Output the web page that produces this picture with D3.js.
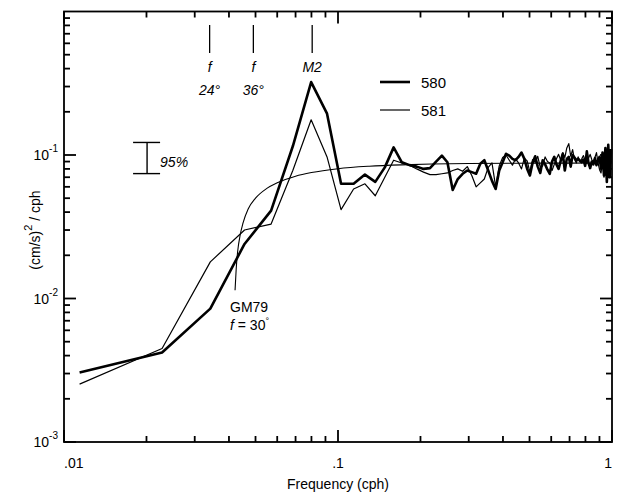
<!DOCTYPE html>
<html>
<head>
<meta charset="utf-8">
<script src="https://cdn.jsdelivr.net/npm/d3@7"></script>
<style>
  body { margin: 0; background: #fff; }
  svg text { font-family: "Liberation Sans", Arial, sans-serif; fill: #000; }
</style>
</head>
<body>
<svg id="chart" width="621" height="501"></svg>
<script>
// spectral estimates (cph), uniform spacing
const freq = [
  0.0114, 0.0228, 0.0342, 0.0456, 0.057, 0.0684, 0.0798, 0.0912, 0.1026, 0.114,
  0.1254, 0.1368, 0.1482, 0.1596, 0.171, 0.1824, 0.1938, 0.2052, 0.2166, 0.228,
  0.2394, 0.2508, 0.2622, 0.2736, 0.285, 0.2964, 0.3078, 0.3192, 0.3306, 0.342,
  0.3534, 0.3648, 0.3762, 0.3876, 0.399, 0.4104, 0.4218, 0.4332, 0.4446, 0.456,
  0.4674, 0.4788, 0.4902, 0.5016, 0.513, 0.5244, 0.5358, 0.5472, 0.5586, 0.57,
  0.5814, 0.5928, 0.6042, 0.6156, 0.627, 0.6384, 0.6498, 0.6612, 0.6726, 0.684,
  0.6954, 0.7068, 0.7182, 0.7296, 0.741, 0.7524, 0.7638, 0.7752, 0.7866, 0.798,
  0.8094, 0.8208, 0.8322, 0.8436, 0.855, 0.8664, 0.8778, 0.8892, 0.9006, 0.912,
  0.9234, 0.9348, 0.9462, 0.9576, 0.969, 0.9804, 0.9918
];

// mooring 580 (thick)
const s580 = [
  0.00305, 0.0042, 0.0085, 0.024, 0.041, 0.115, 0.322, 0.194, 0.063, 0.063,
  0.073, 0.065, 0.082, 0.113, 0.089, 0.085, 0.083, 0.080, 0.081, 0.090,
  0.099, 0.089, 0.057, 0.068, 0.074, 0.078, 0.076, 0.074, 0.087, 0.092,
  0.078, 0.066, 0.058, 0.078, 0.089, 0.102, 0.099, 0.094, 0.092, 0.097,
  0.104, 0.094, 0.080, 0.072, 0.088, 0.098, 0.083, 0.075, 0.092, 0.086,
  0.079, 0.074, 0.090, 0.097, 0.086, 0.080, 0.091, 0.102, 0.078, 0.094,
  0.097, 0.083, 0.100, 0.096, 0.092, 0.094, 0.091, 0.089, 0.093, 0.084,
  0.106, 0.088, 0.081, 0.090, 0.086, 0.095, 0.085, 0.092, 0.097, 0.080,
  0.104, 0.072, 0.112, 0.065, 0.118, 0.070, 0.110
];

// mooring 581 (thin)
const s581 = [
  0.00253, 0.00448, 0.018, 0.030, 0.033, 0.078, 0.176, 0.097, 0.0416, 0.058,
  0.063, 0.052, 0.070, 0.092, 0.088, 0.085, 0.080, 0.076, 0.073, 0.073,
  0.074, 0.075, 0.078, 0.080, 0.077, 0.083, 0.072, 0.060, 0.064, 0.068,
  0.082, 0.088, 0.060, 0.084, 0.096, 0.100, 0.092, 0.085, 0.094, 0.088,
  0.080, 0.095, 0.091, 0.076, 0.093, 0.089, 0.098, 0.082, 0.084, 0.097,
  0.090, 0.088, 0.078, 0.086, 0.094, 0.101, 0.092, 0.104, 0.096, 0.112,
  0.120, 0.098, 0.109, 0.093, 0.088, 0.097, 0.090, 0.094, 0.099, 0.092,
  0.087, 0.095, 0.101, 0.093, 0.089, 0.096, 0.104, 0.088, 0.079, 0.075,
  0.092, 0.070, 0.096, 0.080, 0.100, 0.086, 0.094
];

// GM79 reference curve, f = 30 deg
const gmFreq = [0.0421, 0.0425, 0.043, 0.044, 0.045, 0.047, 0.05, 0.055, 0.06, 0.07,
  0.08, 0.1, 0.13, 0.17, 0.22, 0.3, 0.45, 0.7, 1.0];
const gmVal = [0.0114, 0.016, 0.021, 0.028, 0.0335, 0.042, 0.050, 0.0585, 0.064, 0.0712,
  0.0755, 0.0803, 0.0835, 0.0854, 0.0865, 0.0872, 0.0876, 0.0878, 0.0879];

// frequency markers along the top
const markerFreq = [0.0340, 0.0491, 0.0805];
const markerTop = ["f", "f", "M2"];
const markerBottom = ["24°", "36°", ""];

// 95% confidence bar
const ciFreq = 0.0201;
const ciRange = [0.0742, 0.1223];

const xTickLabels = [".01", ".1", "1"];
const xTickValues = [0.01, 0.1, 1];
const yTickValues = [1e-3, 1e-2, 1e-1];
const yTickExp = ["-3", "-2", "-1"];

const svg = d3.select("#chart");
const pLeft = 64, pRight = 612, pTop = 11.5, pBottom = 442;

const x = d3.scaleLog().domain([0.01, 1]).range([pLeft, pRight]);
const y = d3.scaleLog().domain([1e-3, 1]).range([pBottom, pTop]);

// minor ticks 2..9 per decade
let xMinor = [], yMinor = [];
[0.01, 0.1].forEach(d => { for (let k = 2; k <= 9; k++) xMinor.push(d * k); });
[1e-3, 1e-2, 1e-1].forEach(d => { for (let k = 2; k <= 9; k++) yMinor.push(d * k); });

const majorLen = 12, minorLen = 6;

// inward ticks on all four sides
const tickG = svg.append("g").attr("stroke", "#000").attr("stroke-width", 1.8);
function xTicks(vals, len) {
  [[pBottom, -len], [pTop, len]].forEach(([base, dir]) => {
    tickG.append("g").selectAll("line").data(vals).join("line")
      .attr("x1", d => x(d)).attr("x2", d => x(d))
      .attr("y1", base).attr("y2", base + dir);
  });
}
function yTicks(vals, len) {
  [[pLeft, len], [pRight, -len]].forEach(([base, dir]) => {
    tickG.append("g").selectAll("line").data(vals).join("line")
      .attr("y1", d => y(d)).attr("y2", d => y(d))
      .attr("x1", base).attr("x2", base + dir);
  });
}
xTicks(xTickValues, majorLen);
xTicks(xMinor, minorLen);
yTicks(yTickValues, majorLen);
yTicks(yMinor, minorLen);

// frame
svg.append("rect")
  .attr("x", pLeft).attr("y", pTop)
  .attr("width", pRight - pLeft).attr("height", pBottom - pTop)
  .attr("fill", "none").attr("stroke", "#000").attr("stroke-width", 1.8);

// x tick labels
const xAnchors = ["start", "middle", "end"];
xTickValues.forEach((v, i) => {
  svg.append("text")
    .attr("x", x(v)).attr("y", 468)
    .attr("text-anchor", xAnchors[i])
    .attr("font-size", 14)
    .text(xTickLabels[i]);
});

svg.append("text")
  .attr("x", x(0.1)).attr("y", 489)
  .attr("text-anchor", "middle")
  .attr("font-size", 14)
  .text("Frequency (cph)");

// y tick labels 10^n
yTickValues.forEach((v, i) => {
  const t = svg.append("text")
    .attr("x", 58).attr("y", y(v) + 5)
    .attr("text-anchor", "end")
    .attr("font-size", 14);
  t.append("tspan").text("10");
  t.append("tspan").attr("dy", -8).attr("font-size", 10).text(yTickExp[i]);
});

// y axis title
const yt = svg.append("text")
  .attr("transform", "translate(40,230) rotate(-90)")
  .attr("text-anchor", "middle")
  .attr("font-size", 14);
yt.append("tspan").text("(cm/s)");
yt.append("tspan").attr("dy", -8).attr("font-size", 11).text("2");
yt.append("tspan").attr("dy", 8).text(" / cph");

// lines
const line = (xs, ys) => d3.line()
  .x((d, i) => x(xs[i]))
  .y(d => y(d))(ys);

svg.append("path")
  .attr("d", d3.line().curve(d3.curveMonotoneX)
    .x((d, i) => x(gmFreq[i])).y(d => y(d))(gmVal))
  .attr("fill", "none").attr("stroke", "#000").attr("stroke-width", 1.1);

svg.append("path")
  .attr("d", line(freq, s581))
  .attr("fill", "none").attr("stroke", "#000").attr("stroke-width", 1.2)
  .attr("stroke-linejoin", "round");

svg.append("path")
  .attr("d", line(freq, s580))
  .attr("fill", "none").attr("stroke", "#000").attr("stroke-width", 2.6)
  .attr("stroke-linejoin", "round");

// GM79 label
svg.append("text").attr("x", 230).attr("y", 312).attr("font-size", 14).text("GM79");
const gl = svg.append("text").attr("x", 230).attr("y", 330).attr("font-size", 14);
gl.append("tspan").attr("font-style", "italic").text("f");
gl.append("tspan").text(" = 30");
gl.append("tspan").attr("dy", -6).attr("font-size", 9).text("°");

// frequency markers
markerFreq.forEach((f, i) => {
  svg.append("line")
    .attr("x1", x(f)).attr("x2", x(f))
    .attr("y1", 25).attr("y2", 53)
    .attr("stroke", "#000").attr("stroke-width", 1.3);
  svg.append("text")
    .attr("x", x(f)).attr("y", 72)
    .attr("text-anchor", "middle")
    .attr("font-size", 14).attr("font-style", "italic")
    .text(markerTop[i]);
  if (markerBottom[i]) {
    svg.append("text")
      .attr("x", x(f)).attr("y", 95)
      .attr("text-anchor", "middle")
      .attr("font-size", 14).attr("font-style", "italic")
      .text(markerBottom[i]);
  }
});

// 95% bar
const cx = x(ciFreq);
svg.append("line").attr("x1", cx).attr("x2", cx)
  .attr("y1", y(ciRange[1])).attr("y2", y(ciRange[0]))
  .attr("stroke", "#000").attr("stroke-width", 1.4);
ciRange.forEach(v => {
  svg.append("line").attr("x1", cx - 14).attr("x2", cx + 13)
    .attr("y1", y(v)).attr("y2", y(v))
    .attr("stroke", "#000").attr("stroke-width", 1.4);
});
svg.append("text").attr("x", cx + 13).attr("y", 167)
  .attr("font-size", 14).attr("font-style", "italic").text("95%");

// legend
const legend = [["580", 2.6, 82], ["581", 1.2, 110]];
legend.forEach(([name, w, ly]) => {
  svg.append("line").attr("x1", 380).attr("x2", 410)
    .attr("y1", ly).attr("y2", ly)
    .attr("stroke", "#000").attr("stroke-width", w);
  svg.append("text").attr("x", 421).attr("y", ly + 6)
    .attr("font-size", 15).text(name);
});
</script>
</body>
</html>
